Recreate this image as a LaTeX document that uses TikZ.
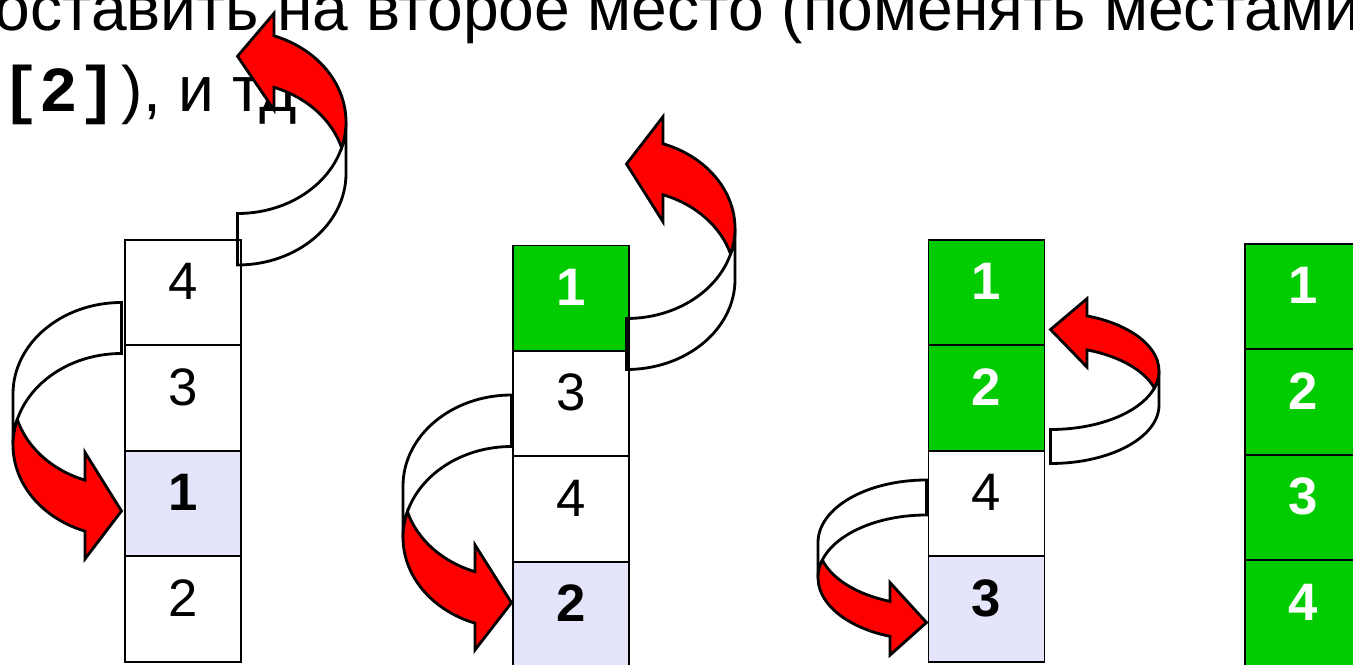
\documentclass[tikz,border=0pt]{standalone}
\usepackage{fontspec}
\setmainfont{Liberation Sans}
\setmonofont{Liberation Mono}
\usepackage{tikz}
\usetikzlibrary{positioning}
\definecolor{Zelenyi}{HTML}{00CC00}
\definecolor{Krasnyi}{HTML}{FF0000}
\definecolor{Lavanda}{HTML}{E4E4FA}

% curved block arrow: tail on the right at the origin, band bends left and down,
% head points right; #1 scope options, #2 band width, #3 head width, #4 vertical radius
\newcommand{\strelka}[4]{%
  \begin{scope}[#1]
    \pgfmathsetmacro{\ugolA}{asin(#2/(2*#4))}
    \pgfmathsetmacro{\ugolB}{acos(0.73/2.17)}
    \pgfmathsetmacro{\ugolP}{180+\ugolA}
    \pgfmathsetmacro{\plecho}{#4+#4*sin(\ugolB)}
    \pgfmathsetmacro{\zub}{(#3-#2)/2}
    % back side of the band
    \draw[lenta] (0,0) arc[start angle=90,end angle=180,x radius=2.17,y radius=#4]
      -- ++(0,-#2) arc[start angle=180,end angle=90,x radius=2.17,y radius=#4] -- cycle;
    % front side with the head
    \draw[lenta,fill=Krasnyi] ([shift={(0,-#4)}]\ugolP:2.17 and #4)
      arc[start angle=\ugolP,end angle=180+\ugolB,x radius=2.17,y radius=#4]
      -- ++(0,\zub) -- (0,{-2*#4-#2/2}) -- (-0.73,{-\plecho-#2-\zub})
      -- ++(0,\zub)
      arc[start angle=180+\ugolB,end angle=180-\ugolA,x radius=2.17,y radius=#4]
      -- cycle;
  \end{scope}}

\begin{document}
\begin{tikzpicture}[
  kletka/.style={draw,line width=1.1pt,fill=white,minimum width=2.32cm,
    inner sep=0pt,outer sep=0pt,text height=1.2cm,text depth=0.908cm,
    font=\fontsize{30}{36}\selectfont},
  vybor/.style={kletka,fill=Lavanda,font=\fontsize{30}{36}\selectfont\bfseries},
  gotovo/.style={kletka,fill=Zelenyi,text=white,font=\fontsize{30}{36}\selectfont\bfseries},
  tekst/.style={anchor=base west,inner sep=0pt,font=\fontsize{36.5}{44}\selectfont},
  lenta/.style={line width=1.6pt,draw=black}
]
  \useasboundingbox (0,0) rectangle (27.06,13.28);

  \node[tekst] (stroka1) at (-0.81,12.66) {поставить на второе место (поменять местами};
  \node[tekst] (stroka2) at (0.02,11.04) {{\ttfamily\bfseries[2]}\hspace{0.1cm}), и тд};

  % first pass
  \node[kletka,anchor=north] (a1) at (3.66,8.48) {4};
  \node[kletka,below=0pt of a1] (a2) {3};
  \node[vybor,below=0pt of a2] (a3) {1};
  \node[kletka,below=0pt of a3] (a4) {2};

  % second pass
  \node[gotovo,anchor=north] (b1) at (11.42,8.37) {1};
  \node[kletka,below=0pt of b1] (b2) {3};
  \node[kletka,below=0pt of b2] (b3) {4};
  \node[vybor,below=0pt of b3] (b4) {2};

  % third pass
  \node[gotovo,anchor=north] (c1) at (19.73,8.48) {1};
  \node[gotovo,below=0pt of c1] (c2) {2};
  \node[kletka,below=0pt of c2] (c3) {4};
  \node[vybor,below=0pt of c3] (c4) {3};

  % sorted
  \node[gotovo,anchor=north] (d1) at (26.06,8.40) {1};
  \node[gotovo,below=0pt of d1] (d2) {2};
  \node[gotovo,below=0pt of d2] (d3) {3};
  \node[gotovo,below=0pt of d3] (d4) {4};

  % swaps
  \strelka{shift={(2.43,7.23)}}{1.02}{2.13}{1.83}
  \strelka{shift={(4.75,7.98)},rotate=180}{1.03}{1.93}{1.83}
  \strelka{shift={(10.23,5.38)}}{1.03}{2.10}{1.82}
  \strelka{shift={(12.53,5.89)},rotate=180}{1.02}{2.10}{1.80}
  \strelka{shift={(18.53,3.68)}}{0.70}{1.45}{1.25}
  \strelka{shift={(21.01,4.01)},rotate=180}{0.68}{1.37}{1.17}
\end{tikzpicture}
\end{document}
